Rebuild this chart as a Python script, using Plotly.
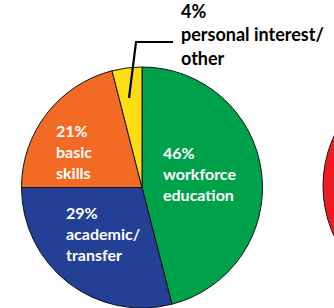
import plotly.graph_objects as go

W, H = 334, 308

categories = ["workforce education", "academic/transfer", "basic skills", "personal interest/other"]
values = [46, 29, 21, 4]
colors = ["#00A14B", "#233F96", "#F26A24", "#FFDD15"]
label_lines = [
    ["46%", "workforce", "education"],
    ["29%", "academic/", "transfer"],
    ["21%", "basic", "skills"],
    ["4%", "personal interest/", "other"],
]
# label anchor (left x px, middle-line baseline px), text colour, font size
label_pos = [(161, 179), (64, 239), (54, 157), (179, 40)]
label_color = ["white", "white", "white", "black"]
label_size = [16, 16, 16, 18]

fig = go.Figure()
fig.add_trace(go.Pie(
    labels=categories, values=values, sort=False, direction="clockwise", rotation=0,
    marker=dict(colors=colors, line=dict(color="#111111", width=1)),
    textinfo="none", hoverinfo="label+percent", showlegend=False,
    domain=dict(x=[21 / W, 263 / W], y=[0, 1 - 67 / H]),
))

def px(x):
    return x / W

def py(y):
    return 1 - y / H

anns = []
for lines, (lx, b), col, fs in zip(label_lines, label_pos, label_color, label_size):
    anns.append(dict(
        text="<br>".join("<b>" + t + "</b>" for t in lines),
        x=px(lx), y=py(b - 0.32 * fs), xref="paper", yref="paper",
        xanchor="left", yanchor="middle", showarrow=False, align="left",
        font=dict(family="Lato", size=fs, color=col),
    ))

shapes = [
    # neighbouring (cut-off) pie on the right
    dict(type="circle", xref="paper", yref="paper",
         x0=px(323), x1=px(561), y0=py(305), y1=py(67),
         fillcolor="#ED1C24", line=dict(color="#111111", width=1), layer="above"),
    # leader line for the small slice
    dict(type="path", xref="paper", yref="paper",
         path=f"M {px(129)} {py(98)} L {px(136)} {py(42)} L {px(173)} {py(42)}",
         line=dict(color="black", width=2.2)),
]

fig.update_layout(
    width=W, height=H, margin=dict(l=0, r=0, t=0, b=0),
    paper_bgcolor="white", plot_bgcolor="white",
    annotations=anns, shapes=shapes,
)
fig.write_html(
    "out.html",
    config={"displayModeBar": False},
    post_script="document.body.style.margin='0';document.body.style.overflow='hidden';",
)
